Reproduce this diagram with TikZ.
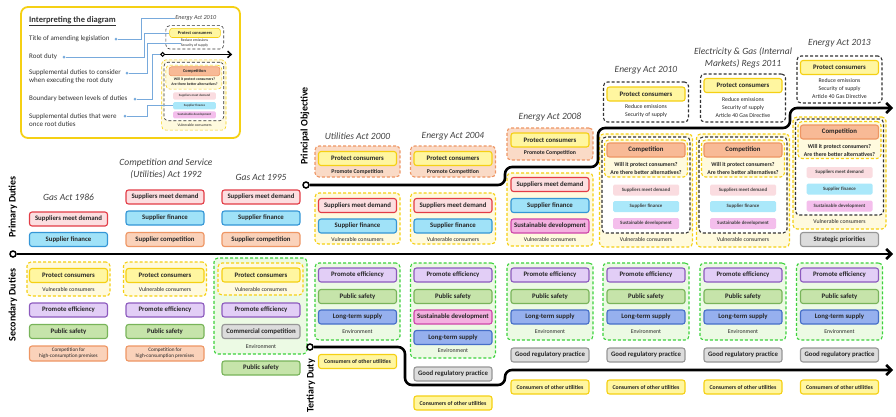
\documentclass[tikz,border=0pt]{standalone}
\usepackage{fontspec}
\setmainfont{Carlito}
\usetikzlibrary{arrows.meta}
\definecolor{DemandClr}{RGB}{226,60,70}
\definecolor{DemandFill}{RGB}{252,222,224}
\definecolor{FinanceClr}{RGB}{52,150,214}
\definecolor{FinanceFill}{RGB}{160,226,248}
\definecolor{CompClr}{RGB}{238,150,100}
\definecolor{CompFill}{RGB}{250,210,186}
\definecolor{CompStrong}{RGB}{248,186,150}
\definecolor{ConsumerClr}{RGB}{245,208,20}
\definecolor{ConsumerFill}{RGB}{255,246,160}
\definecolor{EfficClr}{RGB}{140,90,190}
\definecolor{EfficFill}{RGB}{226,206,246}
\definecolor{SafetyClr}{RGB}{120,180,90}
\definecolor{SafetyFill}{RGB}{198,228,170}
\definecolor{SupplyClr}{RGB}{70,110,200}
\definecolor{SupplyFill}{RGB}{150,176,238}
\definecolor{SustainClr}{RGB}{206,70,170}
\definecolor{SustainFill}{RGB}{244,176,224}
\definecolor{GreyClr}{RGB}{150,150,150}
\definecolor{GreyFill}{RGB}{220,220,220}
\definecolor{GreenDash}{RGB}{60,210,60}
\definecolor{GreenBack}{RGB}{236,250,228}
\definecolor{YellowBack}{RGB}{255,250,222}
\definecolor{OrangeBack}{RGB}{250,218,198}
\definecolor{TitleClr}{RGB}{64,64,64}
\definecolor{LeaderClr}{RGB}{120,170,220}
\definecolor{FadedPink}{RGB}{250,220,224}
\definecolor{FadedCyan}{RGB}{170,232,250}
\definecolor{FadedMagenta}{RGB}{244,190,236}
\newcommand\dutyfnt{\fontsize{6.8}{7.5}\selectfont\bfseries}
\newcommand\notefnt{\fontsize{5.8}{8}\selectfont}
\newcommand\notebf{\fontsize{5.8}{8}\selectfont\bfseries}
\newcommand\fadedfnt{\fontsize{4.9}{5.5}\selectfont\bfseries}
\newcommand\smallfnt{\fontsize{5.2}{6}\selectfont}
\newcommand\actfnt{\fontsize{9.5}{12}\selectfont\itshape}
\newcommand\sidefnt{\fontsize{10}{12}\selectfont\bfseries}
\newcommand\legfnt{\fontsize{7}{8}\selectfont}
\newcommand\legbf{\fontsize{8.5}{9}\selectfont\bfseries}
\tikzset{
  box lw/.style={line width=1.1pt},
  duty/.style={draw, box lw, rounded corners=2.5pt, minimum width=78pt, minimum height=14pt, inner sep=0pt, font=\dutyfnt, text=black!85, align=center},
  demand/.style={duty, draw=DemandClr, fill=DemandFill},
  finance/.style={duty, draw=FinanceClr, fill=FinanceFill},
  compet/.style={duty, draw=CompClr, fill=CompFill},
  competition/.style={duty, draw=CompClr, fill=CompStrong},
  consumer/.style={duty, draw=ConsumerClr, fill=ConsumerFill},
  effic/.style={duty, draw=EfficClr, fill=EfficFill},
  safety/.style={duty, draw=SafetyClr, fill=SafetyFill},
  supply/.style={duty, draw=SupplyClr, fill=SupplyFill},
  sustain/.style={duty, draw=SustainClr, fill=SustainFill},
  greybox/.style={duty, draw=GreyClr, fill=GreyFill},
  faded/.style={rounded corners=1.5pt, minimum width=66pt, minimum height=11pt, inner sep=0pt, font=\fadedfnt, text=black!75},
  fdemand/.style={faded, fill=FadedPink},
  ffinance/.style={faded, fill=FadedCyan},
  fsustain/.style={faded, fill=FadedMagenta},
  group/.style={box lw, dash pattern=on 3pt off 2pt, rounded corners=4pt, inner sep=0pt},
  ydash/.style={group, draw=ConsumerClr, fill=YellowBack},
  gdash/.style={group, draw=GreenDash, fill=GreenBack},
  odash/.style={group, draw=CompClr, fill=OrangeBack},
  kdash/.style={group, draw=black!80, fill=white},
  note/.style={font=\notefnt, text=black!85, align=center, inner sep=0pt},
  act/.style={font=\actfnt, text=TitleClr, align=center, inner sep=0pt},
  side/.style={font=\sidefnt, rotate=90, inner sep=0pt},
  start/.style={circle, draw, line width=1.5pt, fill=white, minimum size=6pt, inner sep=0pt},
  duty line/.style={line width=2.6pt, -{Straight Barb[length=5pt,width=10pt]}},
  ltext/.style={anchor=west, align=left, font=\legfnt, inner sep=0pt, text=black!80},
  ldot/.style={circle, fill=LeaderClr, minimum size=3pt, inner sep=0pt},
  leader/.style={draw=LeaderClr, line width=0.7pt}
}

\begin{document}
\begin{tikzpicture}[x=1pt,y=-1pt]
\useasboundingbox (0,0) rectangle (896,416);

% legend
\node[draw=ConsumerClr, line width=1.8pt, rounded corners=7pt, fill=white, minimum width=219pt, minimum height=131pt, inner sep=0pt] (legend) at (130.5,72.5) {};
\node[ltext, font=\legbf] (lhead) at (29,21) {\underline{Interpreting the diagram}};
\node[ltext] (ltitle) at (29,39) {Title of amending legislation};
\node[ltext] (lroot) at (29,57) {Root duty};
\node[ltext] (lsupp) at (29,77) {Supplemental duties to consider\\when executing the root duty};
\node[ltext] (lbound) at (29,99) {Boundary between levels of duties};
\node[ltext] (lonce) at (29,120) {Supplemental duties that were\\once root duties};
\node[ldot] (ld1) at (116,39) {};
\node[ldot] (ld2) at (64,57) {};
\node[ldot] (ld3) at (127,73) {};
\node[ldot] (ld4) at (135,99) {};
\node[ldot] (ld5) at (125,116) {};

\begin{scope}[shift={(194.5,71.3)}, scale=0.65, transform shape, box lw/.style={line width=0.6pt}]
\node[act] (mt) at (2,-82) {Energy Act 2010};
\node[kdash, minimum width=89pt, minimum height=36pt] (mpo) at (0.5,-52.3) {};
\node[consumer] (mpc) at (0.8,-59) {Protect consumers};
\node[note] (mre) at (0,-43) {Reduce emissions\\Security of supply};
\node[start, line width=1pt] (mls) at (-49,-26) {};
\coordinate (mle) at (58,-26);
\draw[line width=1.5pt, -{Straight Barb[length=3.5pt,width=6.5pt]}] (mls) -- (mle);
\node[ydash, minimum width=99pt, minimum height=108pt] (myo) at (-1,36.5) {};
\node[kdash, minimum width=92pt, minimum height=90pt] (mcb) at (-1,31) {};
\node[ydash, minimum width=86pt, minimum height=37pt] (mcq) at (-1,9) {};
\node[competition] (mcp) at (0,0) {Competition};
\node[note, font=\notebf] (mq) at (0,16) {Will it protect consumers?\\Are there better alternatives?};
\node[fdemand] (mfd) at (0,38) {Suppliers meet demand};
\node[ffinance] (mff) at (0,53) {Supplier finance};
\node[fsustain] (mfs) at (0,67) {Sustainable development};
\node[note] (mvc) at (0,82.6) {Vulnerable consumers};
\end{scope}

\draw[leader] (ld1) -- ++(25.5,0) |- (mt.west);
\draw[leader] (ld2) -- ++(80,0) |- (mpc.west);
\draw[leader] (ld3) -- ++(20,0) |- (mre.west);
\draw[leader] (ld4) -- ++(17,0) |- (mls.west);
\draw[leader] (ld5) -- ++(22,0) |- (mff.west);

% side labels
\node[side] (lpd) at (13,207) {Primary Duties};
\node[side] (lsd) at (13,305) {Secondary Duties};
\node[side] (lpo) at (305,126) {Principal Objective};
\node[side] (ltd) at (311,386) {Tertiary Duty};

% Gas Act 1986
\node[act] (t86) at (68.5,197) {Gas Act 1986};
\node[demand] (dem86) at (68.5,219) {Suppliers meet demand};
\node[finance] (fin86) at (68.5,239.5) {Supplier finance};
\node[ydash, minimum width=83pt, minimum height=34pt] (sec86) at (68.5,279) {};
\node[consumer] (pc86) at (68.5,275.5) {Protect consumers};
\node[note] (vc86) at (68.5,289) {Vulnerable consumers};
\node[effic] (eff86) at (68.5,310) {Promote efficiency};
\node[safety] (saf86) at (68.5,331.5) {Public safety};
\node[compet, font=\smallfnt, minimum height=15pt] (hc86) at (68.5,353.5) {Competition for\\high-consumption premises};

% Competition and Service (Utilities) Act 1992
\node[act] (t92) at (166,169) {Competition and Service\\(Utilities) Act 1992};
\node[demand] (dem92) at (165,197) {Suppliers meet demand};
\node[finance] (fin92) at (165,218) {Supplier finance};
\node[compet] (com92) at (165,239.5) {Supplier competition};
\node[ydash, minimum width=83pt, minimum height=34pt] (sec92) at (165,279) {};
\node[consumer] (pc92) at (165,275.5) {Protect consumers};
\node[note] (vc92) at (165,289) {Vulnerable consumers};
\node[effic] (eff92) at (165,310) {Promote efficiency};
\node[safety] (saf92) at (165,331.5) {Public safety};
\node[compet, font=\smallfnt, minimum height=15pt] (hc92) at (165,353.5) {Competition for\\high-consumption premises};

% Gas Act 1995
\node[act] (t95) at (261,177) {Gas Act 1995};
\node[demand] (dem95) at (261,197) {Suppliers meet demand};
\node[finance] (fin95) at (261,218) {Supplier finance};
\node[compet] (com95) at (261,239.5) {Supplier competition};
\node[gdash, minimum width=93pt, minimum height=96pt] (sec95) at (260.5,306) {};
\node[ydash, minimum width=85pt, minimum height=32pt] (pcg95) at (260.5,279) {};
\node[consumer] (pc95) at (261,275) {Protect consumers};
\node[note] (vc95) at (261,289) {Vulnerable consumers};
\node[effic] (eff95) at (261,310) {Promote efficiency};
\node[greybox] (cc95) at (261,331.5) {Commercial competition};
\node[note] (env95) at (261,347) {Environment};
\node[safety] (saf95) at (261,368) {Public safety};

% Utilities Act 2000
\node[act] (t00) at (357.5,136) {Utilities Act 2000};
\node[odash, minimum width=85pt, minimum height=31pt] (po00) at (357.5,161.5) {};
\node[consumer] (pc00) at (357.5,158.5) {Protect consumers};
\node[note, font=\notebf] (pm00) at (357.5,171.5) {Promote Competition};
\node[ydash, minimum width=85pt, minimum height=51pt] (pr00) at (357.5,218.5) {};
\node[demand] (dem00) at (357.5,205.5) {Suppliers meet demand};
\node[finance] (fin00) at (357.5,226) {Supplier finance};
\node[note] (vc00) at (357.5,239) {Vulnerable consumers};
\node[gdash, minimum width=85pt, minimum height=77pt] (sec00) at (357.5,301.5) {};
\node[effic] (eff00) at (357.5,275) {Promote efficiency};
\node[safety] (saf00) at (357.5,296.5) {Public safety};
\node[supply] (sup00) at (357.5,317) {Long-term supply};
\node[note] (env00) at (357.5,332) {Environment};
\node[consumer, font=\notebf] (ou00) at (357.5,361.5) {Consumers of other utilities};

% Energy Act 2004
\node[act] (t04) at (453,136) {Energy Act 2004};
\node[odash, minimum width=85pt, minimum height=31pt] (po04) at (453,161.5) {};
\node[consumer] (pc04) at (453,158.5) {Protect consumers};
\node[note, font=\notebf] (pm04) at (453,171.5) {Promote Competition};
\node[ydash, minimum width=85pt, minimum height=51pt] (pr04) at (453,218.5) {};
\node[demand] (dem04) at (453,205.5) {Suppliers meet demand};
\node[finance] (fin04) at (453,226) {Supplier finance};
\node[note] (vc04) at (453,239) {Vulnerable consumers};
\node[gdash, minimum width=85pt, minimum height=95pt] (sec04) at (453,310.5) {};
\node[effic] (eff04) at (453,275) {Promote efficiency};
\node[safety] (saf04) at (453,296.5) {Public safety};
\node[sustain] (sus04) at (453,317) {Sustainable development};
\node[supply] (sup04) at (453,337.5) {Long-term supply};
\node[note] (env04) at (453,351) {Environment};
\node[greybox] (grp04) at (453,374) {Good regulatory practice};
\node[consumer, font=\notebf] (ou04) at (453,403) {Consumers of other utilities};

% Energy Act 2008
\node[act] (t08) at (550,117) {Energy Act 2008};
\node[odash, minimum width=86pt, minimum height=32pt] (po08) at (550,144) {};
\node[consumer] (pc08) at (550,140) {Protect consumers};
\node[note, font=\notebf] (pm08) at (550,153) {Promote Competition};
\node[ydash, minimum width=86pt, minimum height=73pt] (pr08) at (550,209.5) {};
\node[demand] (dem08) at (550,184.5) {Suppliers meet demand};
\node[finance] (fin08) at (550,205.5) {Supplier finance};
\node[sustain] (sus08) at (550,226) {Sustainable development};
\node[note] (vc08) at (550,240) {Vulnerable consumers};
\node[gdash, minimum width=86pt, minimum height=77pt] (sec08) at (550,301.5) {};
\node[effic] (eff08) at (550,275) {Promote efficiency};
\node[safety] (saf08) at (550,296.5) {Public safety};
\node[supply] (sup08) at (550,317) {Long-term supply};
\node[note] (env08) at (550,332) {Environment};
\node[greybox] (grp08) at (550,355) {Good regulatory practice};
\node[consumer, font=\notebf] (ou08) at (550,387) {Consumers of other utilities};

% Energy Act 2010
\node[act] (t10) at (646,70) {Energy Act 2010};
\node[kdash, minimum width=85pt, minimum height=40pt] (po10) at (646,102) {};
\node[consumer] (pc10) at (646,94) {Protect consumers};
\node[note] (re10) at (646,111) {Reduce emissions\\Security of supply};
\node[ydash, minimum width=93pt, minimum height=113pt] (pr10) at (646,190.5) {};
\node[kdash, minimum width=88pt, minimum height=96pt] (cb10) at (646,185) {};
\node[ydash, minimum width=83pt, minimum height=37pt] (cq10) at (646,158.5) {};
\node[competition] (cp10) at (646,150) {Competition};
\node[note, font=\notebf] (q10) at (646,168) {Will it protect consumers?\\Are there better alternatives?};
\node[fdemand] (fd10) at (646,190) {Suppliers meet demand};
\node[ffinance] (ff10) at (646,206.5) {Supplier finance};
\node[fsustain] (fs10) at (646,223.5) {Sustainable development};
\node[note] (vc10) at (646,239) {Vulnerable consumers};
\node[gdash, minimum width=86pt, minimum height=77pt] (sec10) at (646,301.5) {};
\node[effic] (eff10) at (646,275) {Promote efficiency};
\node[safety] (saf10) at (646,296.5) {Public safety};
\node[supply] (sup10) at (646,317) {Long-term supply};
\node[note] (env10) at (646,332) {Environment};
\node[greybox] (grp10) at (646,355) {Good regulatory practice};
\node[consumer, font=\notebf] (ou10) at (646,387) {Consumers of other utilities};

% Electricity & Gas (Internal Markets) Regs 2011
\node[act] (t11) at (743,57.5) {Electricity \& Gas (Internal\\Markets) Regs 2011};
\node[kdash, minimum width=85pt, minimum height=48pt] (po11) at (743,98) {};
\node[consumer] (pc11) at (743,85.5) {Protect consumers};
\node[note] (re11) at (743,107.5) {Reduce emissions\\Security of supply\\Article 40 Gas Directive};
\node[ydash, minimum width=93pt, minimum height=113pt] (pr11) at (743,190.5) {};
\node[kdash, minimum width=88pt, minimum height=96pt] (cb11) at (743,185) {};
\node[ydash, minimum width=83pt, minimum height=37pt] (cq11) at (743,158.5) {};
\node[competition] (cp11) at (743,150) {Competition};
\node[note, font=\notebf] (q11) at (743,168) {Will it protect consumers?\\Are there better alternatives?};
\node[fdemand] (fd11) at (743,190) {Suppliers meet demand};
\node[ffinance] (ff11) at (743,206.5) {Supplier finance};
\node[fsustain] (fs11) at (743,223.5) {Sustainable development};
\node[note] (vc11) at (743,239) {Vulnerable consumers};
\node[gdash, minimum width=86pt, minimum height=77pt] (sec11) at (743,301.5) {};
\node[effic] (eff11) at (743,275) {Promote efficiency};
\node[safety] (saf11) at (743,296.5) {Public safety};
\node[supply] (sup11) at (743,317) {Long-term supply};
\node[note] (env11) at (743,332) {Environment};
\node[greybox] (grp11) at (743,355) {Good regulatory practice};
\node[consumer, font=\notebf] (ou11) at (743,387) {Consumers of other utilities};

% Energy Act 2013
\node[act] (t13) at (839.5,43) {Energy Act 2013};
\node[kdash, minimum width=85pt, minimum height=47pt] (po13) at (839.5,79.5) {};
\node[consumer] (pc13) at (839.5,67.5) {Protect consumers};
\node[note] (re13) at (839.5,89) {Reduce emissions\\Security of supply\\Article 40 Gas Directive};
\node[ydash, minimum width=93pt, minimum height=112pt] (pr13) at (839.5,173) {};
\node[kdash, minimum width=88pt, minimum height=96pt] (cb13) at (839.5,167) {};
\node[ydash, minimum width=83pt, minimum height=37pt] (cq13) at (839.5,140) {};
\node[competition] (cp13) at (839.5,132) {Competition};
\node[note, font=\notebf] (q13) at (839.5,150) {Will it protect consumers?\\Are there better alternatives?};
\node[fdemand] (fd13) at (839.5,172.5) {Suppliers meet demand};
\node[ffinance] (ff13) at (839.5,189) {Supplier finance};
\node[fsustain] (fs13) at (839.5,206) {Sustainable development};
\node[note] (vc13) at (839.5,222) {Vulnerable consumers};
\node[greybox] (sp13) at (839.5,239.5) {Strategic priorities};
\node[gdash, minimum width=86pt, minimum height=77pt] (sec13) at (839.5,301.5) {};
\node[effic] (eff13) at (839.5,275) {Promote efficiency};
\node[safety] (saf13) at (839.5,296.5) {Public safety};
\node[supply] (sup13) at (839.5,317) {Long-term supply};
\node[note] (env13) at (839.5,332) {Environment};
\node[greybox] (grp13) at (839.5,355) {Good regulatory practice};
\node[consumer, font=\notebf] (ou13) at (839.5,387) {Consumers of other utilities};

% boundaries between levels of duties
\node[start] (pds) at (13,254) {};
\coordinate (pde) at (893,254);
\draw[duty line] (pds) -- (pde);
\node[start] (pos) at (306,185) {};
\coordinate (poe) at (893,108);
\draw[duty line, rounded corners=7pt] (pos) -- (505,185) -- (505,167) -- (598,167) -- (598,128) -- (790,128) -- (790,108) -- (poe);
\node[start] (tds) at (310,347) {};
\coordinate (tde) at (893,370);
\draw[duty line, rounded corners=7pt] (tds) -- (405,347) -- (405,385) -- (505,385) -- (505,370) -- (tde);

\end{tikzpicture}
\end{document}
